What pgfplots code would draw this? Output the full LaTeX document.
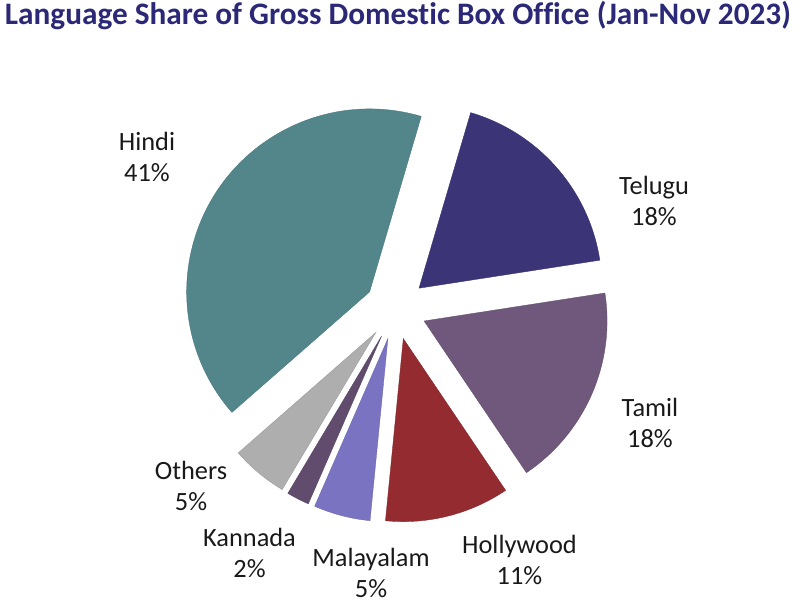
\documentclass[border=0pt]{standalone}
\usepackage{pgfplots}
\pgfplotsset{compat=1.18}
\usepackage{pgfplotstable}
\usepackage{fontspec}
\setmainfont{Carlito}[Ligatures=NoCommon]
\definecolor{cTitle}{RGB}{43,41,119}
\definecolor{cHindi}{RGB}{82,134,139}
\definecolor{cTelugu}{RGB}{59,52,119}
\definecolor{cTamil}{RGB}{111,88,123}
\definecolor{cHollywood}{RGB}{148,43,48}
\definecolor{cMalayalam}{RGB}{122,115,193}
\definecolor{cKannada}{RGB}{97,76,110}
\definecolor{cOthers}{RGB}{173,174,173}
% language, share (%), colour, label position (pixels from left / from top)
\pgfplotstableread[col sep=comma]{
name,share,color,lx,ly
Hindi,41,cHindi,147,157
Others,5,cOthers,191,486
Kannada,2,cKannada,249.5,553
Malayalam,5,cMalayalam,371,573
Hollywood,11,cHollywood,519.5,560
Tamil,18,cTamil,650,423
Telugu,18,cTelugu,654,201
}\slices
\newcommand\lbl{\fontsize{15}{18.1}\selectfont}
\begin{document}
\begin{tikzpicture}
\begin{axis}[
  x=0.02cm, y=0.02cm,
  xmin=0, xmax=800, ymin=0, ymax=605,
  hide axis, clip=false, scale only axis,
]
\path (axis cs:0,0) rectangle (axis cs:800,605);
\node[anchor=base, text=cTitle, font=\bfseries\fontsize{17.8}{20}\selectfont, inner sep=0pt]
  at (axis cs:398,580) {Language Share of Gross Domestic Box Office (Jan-Nov 2023)};
\pgfplotstablegetrowsof{\slices}
\pgfmathtruncatemacro\N{\pgfplotsretval-1}
\gdef\cum{73.6}
\pgfplotsforeachungrouped \i in {0,...,\N}{%
  \pgfplotstablegetelem{\i}{name}\of\slices \let\nm\pgfplotsretval
  \pgfplotstablegetelem{\i}{share}\of\slices \let\sh\pgfplotsretval
  \pgfplotstablegetelem{\i}{color}\of\slices \let\col\pgfplotsretval
  \pgfplotstablegetelem{\i}{lx}\of\slices \let\lx\pgfplotsretval
  \pgfplotstablegetelem{\i}{ly}\of\slices \let\ly\pgfplotsretval
  \pgfmathsetmacro\a{\cum}%
  \pgfmathsetmacro\b{\cum+3.6*\sh}%
  \pgfmathsetmacro\m{(\a+\b)/2}%
  \pgfmathsetmacro\ox{395.7+31*cos(\m)}%
  \pgfmathsetmacro\oy{296.4+31*sin(\m)}%
  \pgfmathsetmacro\lyy{605-\ly}%
  \edef\cmd{%
    \noexpand\fill[fill=\col, draw=\col!88!black, line width=0.2pt, line join=miter]
      (axis cs:\ox,\oy) -- ++(\a:3.66cm) arc[start angle=\a, end angle=\b, radius=3.66cm] -- cycle;
    \noexpand\node[align=center, font=\noexpand\lbl, inner sep=0pt, text=black!90]
      at (axis cs:\lx,\lyy) {\nm\noexpand\\\sh\noexpand\%};
  }%
  \cmd
  \global\let\cum\b
}
\end{axis}
\end{tikzpicture}
\end{document}
